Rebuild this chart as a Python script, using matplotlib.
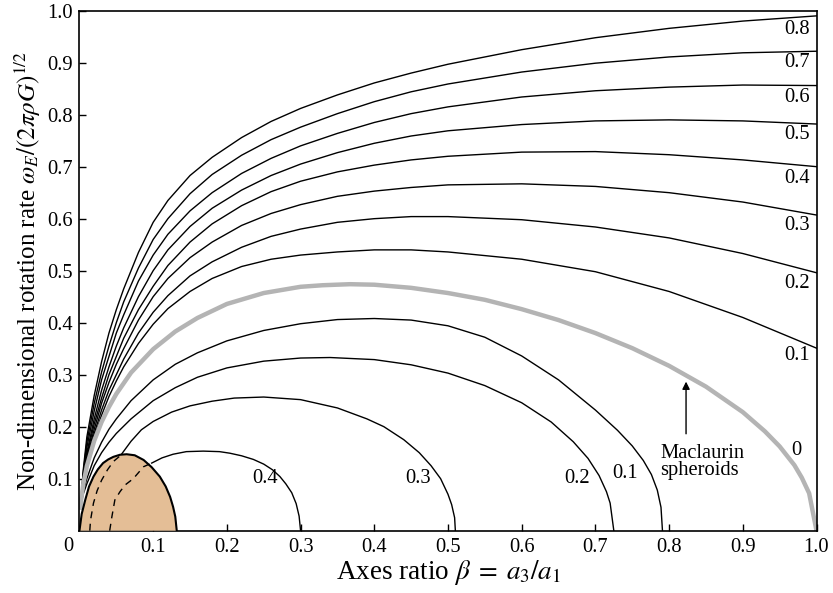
import matplotlib
matplotlib.use("Agg")
import matplotlib.pyplot as plt

plt.rcParams['font.family'] = ['Liberation Serif', 'DejaVu Serif']
plt.rcParams['mathtext.fontset'] = 'stix'

# ---- data (beta = a3/a1, rate) ----
# Maclaurin spheroids
mac_b = [0.001, 0.002, 0.005, 0.01, 0.02, 0.03, 0.04, 0.05, 0.07, 0.1, 0.13, 0.16, 0.2,
         0.25, 0.3, 0.33, 0.367, 0.4, 0.45, 0.5, 0.55, 0.6, 0.65, 0.7, 0.75, 0.8, 0.85,
         0.9, 0.93, 0.95, 0.97, 0.98, 0.99, 1.0]
mac_w = [0.040, 0.056, 0.088, 0.124, 0.173, 0.209, 0.238, 0.263, 0.304, 0.349, 0.383,
         0.409, 0.436, 0.457, 0.469, 0.472, 0.474, 0.473, 0.467, 0.457, 0.444, 0.426,
         0.405, 0.380, 0.351, 0.317, 0.277, 0.228, 0.191, 0.162, 0.126, 0.102, 0.072, 0.0]

# upper family, all ending at beta = 1
up_b = [0.002, 0.005, 0.01, 0.02, 0.03, 0.04, 0.05, 0.06, 0.08, 0.1, 0.12, 0.15, 0.18,
        0.22, 0.26, 0.3, 0.35, 0.4, 0.45, 0.5, 0.6, 0.7, 0.8, 0.9, 1.0]
up_labels = ['0.1', '0.2', '0.3', '0.4', '0.5', '0.6', '0.7', '0.8']
up_w01 = [0.05, 0.09, 0.13, 0.18, 0.222, 0.258, 0.288, 0.315, 0.36, 0.397, 0.427, 0.46,
          0.485, 0.508, 0.522, 0.530, 0.536, 0.540, 0.540, 0.536, 0.522, 0.498, 0.46, 0.41, 0.351]
up_w02 = [0.05, 0.092, 0.135, 0.187, 0.232, 0.27, 0.30, 0.33, 0.38, 0.42, 0.452, 0.49,
          0.517, 0.545, 0.566, 0.58, 0.593, 0.60, 0.604, 0.604, 0.598, 0.584, 0.563, 0.533, 0.496]
up_w03 = [0.05, 0.095, 0.14, 0.195, 0.245, 0.285, 0.32, 0.35, 0.405, 0.45, 0.485, 0.525,
          0.555, 0.587, 0.61, 0.627, 0.643, 0.653, 0.660, 0.665, 0.667, 0.662, 0.650, 0.632, 0.607]
up_w04 = [0.05, 0.098, 0.145, 0.205, 0.255, 0.30, 0.335, 0.37, 0.425, 0.47, 0.51, 0.555,
          0.59, 0.625, 0.652, 0.672, 0.69, 0.703, 0.713, 0.72, 0.728, 0.729, 0.723, 0.713, 0.70]
up_w05 = [0.05, 0.102, 0.15, 0.215, 0.27, 0.315, 0.355, 0.39, 0.45, 0.50, 0.54, 0.585,
          0.62, 0.655, 0.683, 0.705, 0.727, 0.745, 0.759, 0.769, 0.781, 0.788, 0.790, 0.788, 0.782]
up_w06 = [0.05, 0.106, 0.16, 0.23, 0.29, 0.335, 0.38, 0.415, 0.48, 0.53, 0.57, 0.615,
          0.65, 0.687, 0.716, 0.74, 0.764, 0.785, 0.802, 0.815, 0.834, 0.846, 0.853, 0.857, 0.856]
up_w07 = [0.05, 0.11, 0.17, 0.245, 0.305, 0.355, 0.40, 0.44, 0.505, 0.56, 0.60, 0.648,
          0.685, 0.722, 0.752, 0.776, 0.802, 0.825, 0.844, 0.859, 0.882, 0.899, 0.911, 0.919, 0.922]
up_w08 = [0.05, 0.115, 0.18, 0.26, 0.325, 0.38, 0.425, 0.465, 0.535, 0.593, 0.635, 0.683,
          0.718, 0.756, 0.787, 0.812, 0.838, 0.861, 0.880, 0.897, 0.925, 0.948, 0.966, 0.980, 0.990]
up_lab_w = [0.336, 0.476, 0.586, 0.678, 0.761, 0.833, 0.900, 0.964]

# lower family (arches ending on the beta axis)
low_labels = ['0.1', '0.2', '0.3', '0.4']
low1_b = [0.002, 0.005, 0.01, 0.02, 0.03, 0.04, 0.05, 0.07, 0.1, 0.13, 0.16, 0.2, 0.25,
          0.3, 0.35, 0.4, 0.45, 0.5, 0.55, 0.6, 0.65, 0.7, 0.73, 0.75, 0.765, 0.776,
          0.784, 0.789, 0.791]
low1_w = [0.05, 0.075, 0.1, 0.14, 0.17, 0.195, 0.215, 0.25, 0.29, 0.32, 0.342, 0.365,
          0.385, 0.398, 0.406, 0.408, 0.405, 0.394, 0.372, 0.336, 0.29, 0.232, 0.193,
          0.163, 0.135, 0.108, 0.078, 0.045, 0.0]
low2_b = [0.002, 0.005, 0.01, 0.02, 0.03, 0.04, 0.05, 0.07, 0.1, 0.13, 0.16, 0.2, 0.25,
          0.3, 0.34, 0.4, 0.45, 0.5, 0.55, 0.6, 0.64, 0.67, 0.69, 0.705, 0.715, 0.72, 0.725]
low2_w = [0.05, 0.07, 0.09, 0.125, 0.15, 0.17, 0.187, 0.215, 0.25, 0.275, 0.295, 0.313,
          0.326, 0.332, 0.333, 0.329, 0.319, 0.303, 0.279, 0.246, 0.209, 0.171, 0.139,
          0.106, 0.075, 0.053, 0.0]
low3_b = [0.056, 0.07, 0.084, 0.1, 0.125, 0.15, 0.18, 0.21, 0.25, 0.3, 0.35, 0.39, 0.413,
          0.44, 0.461, 0.477, 0.49, 0.5, 0.505, 0.509, 0.51]
low3_w = [0.145, 0.172, 0.194, 0.21, 0.228, 0.24, 0.249, 0.255, 0.257, 0.252, 0.236,
          0.215, 0.2, 0.175, 0.15, 0.125, 0.1, 0.07, 0.05, 0.025, 0.0]
low3_dash_b = [0.014, 0.015, 0.019, 0.024, 0.030, 0.038, 0.046, 0.056]
low3_dash_w = [0.0, 0.02, 0.053, 0.077, 0.097, 0.117, 0.133, 0.145]
low4_b = [0.098, 0.112, 0.127, 0.145, 0.168, 0.19, 0.204, 0.22, 0.236, 0.25, 0.262,
          0.272, 0.28, 0.288, 0.294, 0.298, 0.30]
low4_w = [0.130, 0.140, 0.147, 0.152, 0.153, 0.152, 0.149, 0.144, 0.137, 0.128, 0.117,
          0.104, 0.09, 0.073, 0.052, 0.028, 0.0]
low4_dash_b = [0.041, 0.044, 0.048, 0.055, 0.062, 0.073, 0.087, 0.098]
low4_dash_w = [0.0, 0.027, 0.059, 0.075, 0.088, 0.10, 0.123, 0.130]
low_lab_b = [0.740, 0.675, 0.460, 0.252]
low_lab_w = [0.110, 0.101, 0.101, 0.101]

# shaded region boundary
reg_b = [0.0, 0.003, 0.008, 0.013, 0.019, 0.025, 0.032, 0.039, 0.046, 0.055, 0.064,
         0.075, 0.087, 0.098, 0.109, 0.117, 0.123, 0.127, 0.130, 0.132]
reg_w = [0.0, 0.032, 0.06, 0.085, 0.104, 0.118, 0.13, 0.137, 0.142, 0.146, 0.147,
         0.145, 0.136, 0.122, 0.104, 0.085, 0.065, 0.046, 0.027, 0.0]


def main():
    fig = plt.figure(figsize=(8.33, 5.93), dpi=100)
    ax = fig.add_axes([0.0954, 0.1051, 0.8848, 0.8769])

    ax.fill(reg_b, reg_w, fc='#e4be96', ec='none', zorder=3)
    ax.plot(reg_b, reg_w, color='k', lw=1.5, zorder=4)

    ax.plot(low3_dash_b, low3_dash_w, color='k', lw=1.0, ls=(0, (5, 4)), zorder=5)
    ax.plot(low4_dash_b, low4_dash_w, color='k', lw=1.0, ls=(0, (5, 4)), zorder=5)

    ups = [up_w01, up_w02, up_w03, up_w04, up_w05, up_w06, up_w07, up_w08]
    for w in ups:
        ax.plot(up_b, w, color='k', lw=1.0, zorder=2)
    for lab, w in zip(up_labels, up_lab_w):
        ax.text(0.991, w, lab, ha='right', va='center', fontsize=14.8)

    ax.plot(low1_b, low1_w, color='k', lw=1.0, zorder=2)
    ax.plot(low2_b, low2_w, color='k', lw=1.0, zorder=2)
    ax.plot(low3_b, low3_w, color='k', lw=1.0, zorder=2)
    ax.plot(low4_b, low4_w, color='k', lw=1.0, zorder=2)
    for lab, b, w in zip(low_labels, low_lab_b, low_lab_w):
        ax.text(b, w, lab, ha='center', va='center', fontsize=14.8)

    ax.plot(mac_b, mac_w, color='#b4b4b4', lw=3.2, solid_capstyle='butt', zorder=2.5)
    ax.text(0.973, 0.155, '0', ha='center', va='center', fontsize=14.8)
    ax.text(0.788, 0.132, 'Maclaurin\nspheroids', ha='left', va='center',
            fontsize=14.8, linespacing=0.9)
    ax.annotate('', xy=(0.823, 0.292), xytext=(0.823, 0.181),
                arrowprops=dict(arrowstyle='-|>', color='k', lw=1.0, mutation_scale=11))

    ax.set_xlim(0, 1)
    ax.set_ylim(0, 1)
    ticks = [0.1, 0.2, 0.3, 0.4, 0.5, 0.6, 0.7, 0.8, 0.9, 1.0]
    ax.set_xticks(ticks)
    ax.set_yticks(ticks)
    ax.set_xticklabels(['%.1f' % t for t in ticks])
    ax.set_yticklabels(['%.1f' % t for t in ticks])
    ax.tick_params(direction='in', length=5, width=1.0, labelsize=14.8, pad=5,
                   top=False, right=False)
    ax.text(-0.008, -0.031, '0', transform=ax.transAxes, ha='right', va='center',
            fontsize=14.8)
    for s in ax.spines.values():
        s.set_linewidth(1.2)

    ax.set_xlabel(r'Axes ratio $\beta\;=\;a_3/a_1$', fontsize=19.5, labelpad=1)
    ax.set_ylabel(r'Non-dimensional rotation rate $\omega_E/(2\pi\rho G)^{1/2}$',
                  fontsize=18, labelpad=3)

    plt.savefig('out.png', dpi=100)


if __name__ == '__main__':
    main()
